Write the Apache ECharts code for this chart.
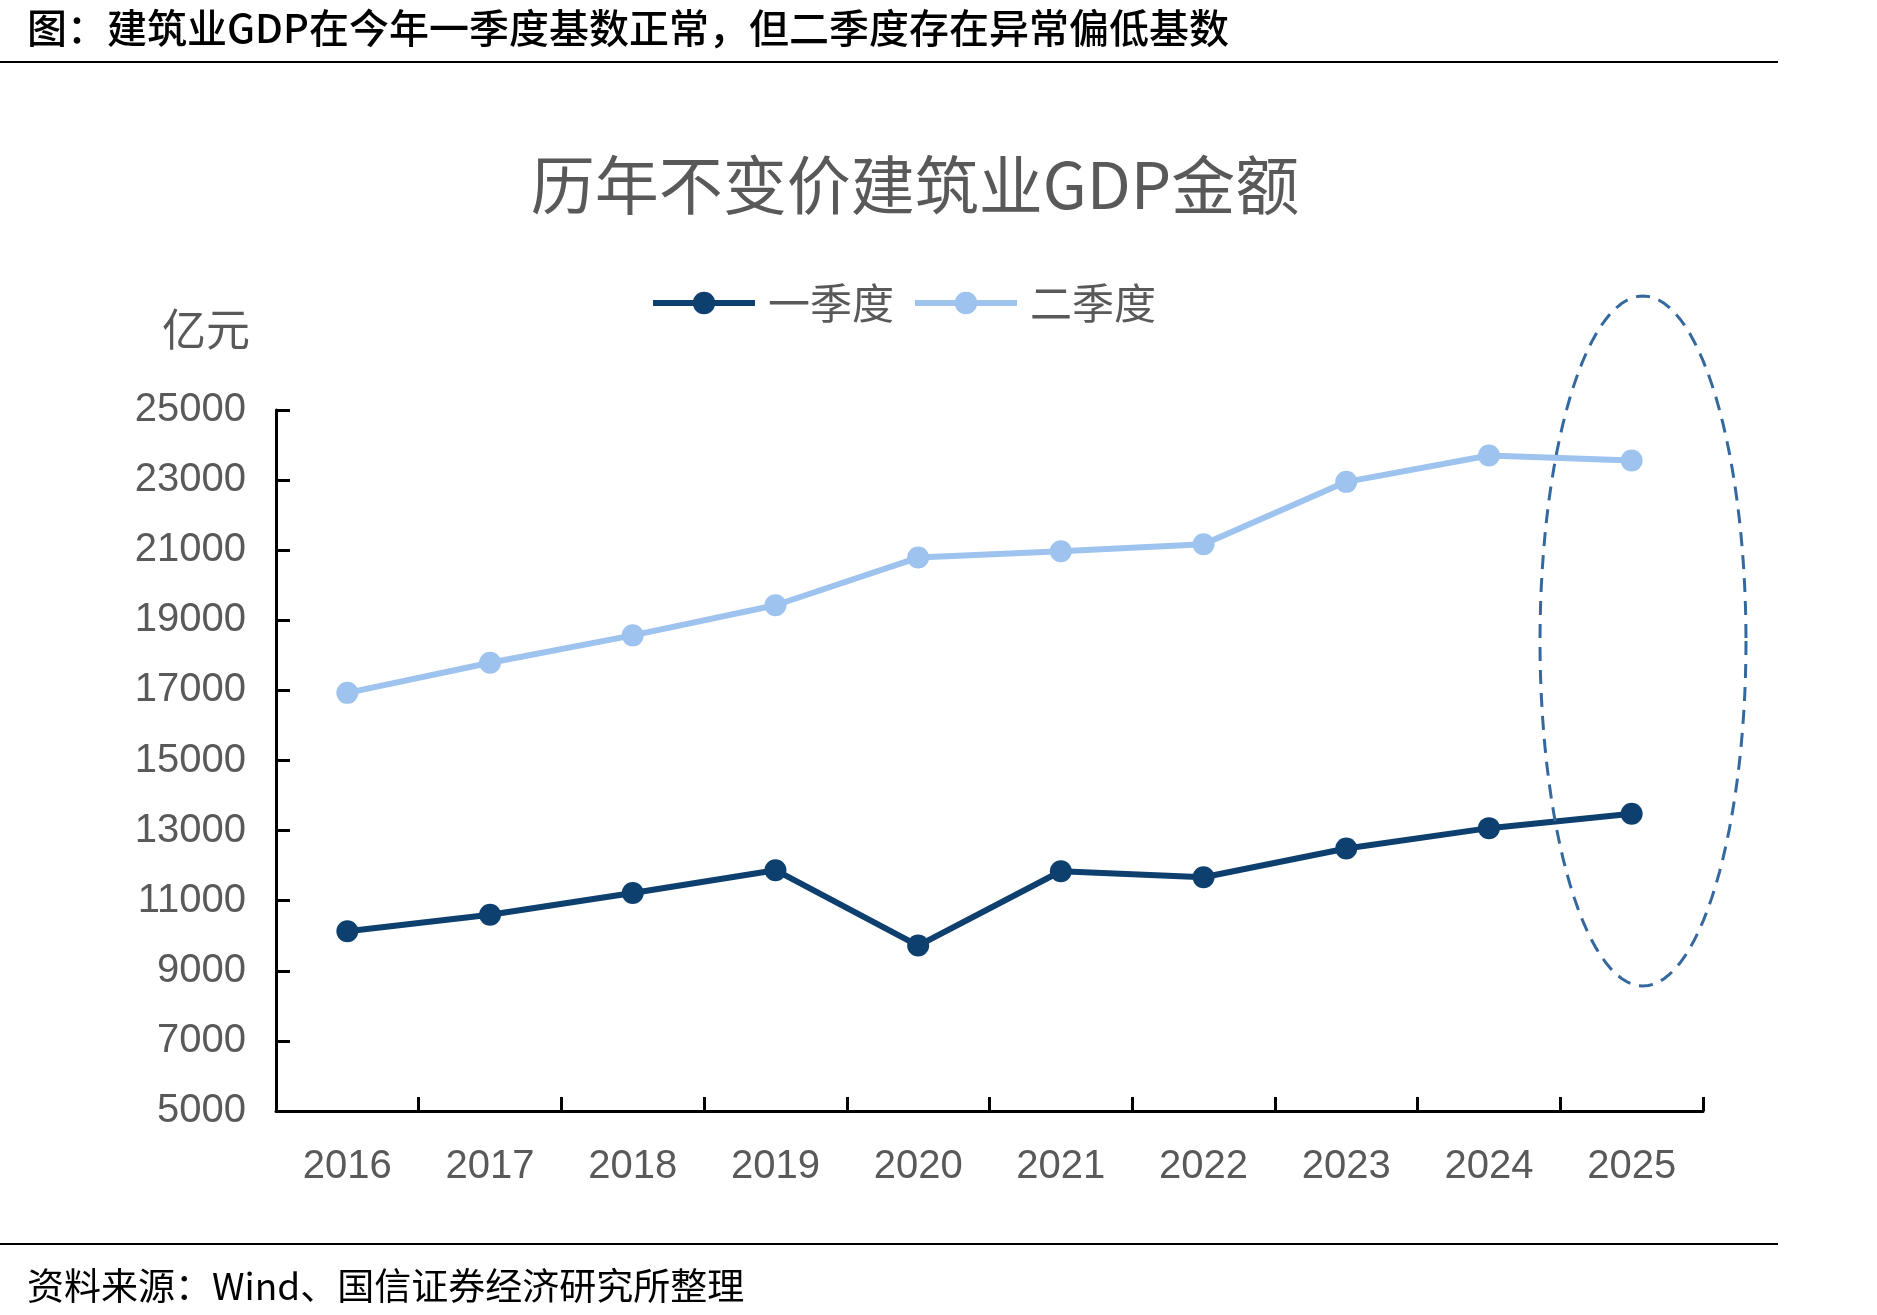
<!DOCTYPE html>
<html>
<head>
	<meta charset="utf-8">
	<title>历年不变价建筑业GDP金额</title>
	<script src="https://cdn.jsdelivr.net/npm/echarts@6/dist/echarts.min.js"></script>
	<style>
		html, body { margin: 0; padding: 0; background: #fff; }
		#main { width: 1877px; height: 1315px; }
	</style>
</head>
<body>
	<div id="main"></div>
<script>
	// 数据
	var years = ['2016', '2017', '2018', '2019', '2020', '2021', '2022', '2023', '2024', '2025'];
	var q1 = [10130, 10600, 11220, 11870, 9720, 11840, 11670, 12490, 13070, 13480];
	var q2 = [16930, 17790, 18570, 19430, 20790, 20970, 21170, 22950, 23700, 23560];
	var yTicks = [5000, 25000, 2000]; // min, max, interval

	var numFont = '"Liberation Sans", Arial, sans-serif';
	var cjkFont = '"Noto Sans CJK SC", sans-serif';

	// 虚线椭圆（标注2025）
	function ellipsePoints(cx, cy, rx, ry) {
		var pts = [];
		for (var i = 0; i < 120; i++) {
			var t = i / 120 * Math.PI * 2;
			pts.push([cx + rx * Math.cos(t), cy + ry * Math.sin(t)]);
		}
		return pts;
	}

	var option = {
		animation: false,
		backgroundColor: '#fff',
		title: [{
			text: '图：建筑业GDP在今年一季度基数正常，但二季度存在异常偏低基数',
			left: 22,
			top: 3,
			textStyle: { fontFamily: cjkFont, fontSize: 40, fontWeight: 500, color: '#000' }
		}, {
			text: '历年不变价建筑业GDP金额',
			left: 910,
			top: 148,
			textAlign: 'center',
			textStyle: { fontFamily: cjkFont, fontSize: 64, fontWeight: 'normal', color: '#595959' }
		}, {
			text: '亿元',
			left: 201,
			top: 302,
			textAlign: 'center',
			textStyle: { fontFamily: cjkFont, fontSize: 44, fontWeight: 'normal', color: '#595959' }
		}, {
			text: '资料来源：Wind、国信证券经济研究所整理',
			left: 22,
			top: 1262,
			textStyle: { fontFamily: cjkFont, fontSize: 37, fontWeight: 'normal', color: '#000' }
		}],
		legend: {
			left: 645,
			top: 277,
			itemWidth: 102,
			itemHeight: 28,
			itemGap: 18,
			lineStyle: { width: 6 },
			textStyle: { fontFamily: cjkFont, fontSize: 42, color: '#595959', padding: [0, 0, 0, 8] },
			data: ['一季度', '二季度']
		},
		grid: { left: 276, right: 174, top: 410, bottom: 204, containLabel: false },
		xAxis: {
			type: 'category',
			data: years,
			boundaryGap: true,
			axisLine: { lineStyle: { color: '#000', width: 3 } },
			axisTick: { show: true, inside: true, length: 14, lineStyle: { color: '#000', width: 3 } },
			axisLabel: { margin: 36, fontFamily: numFont, fontSize: 40, color: '#595959' },
			splitLine: { show: false }
		},
		yAxis: {
			type: 'value',
			min: yTicks[0],
			max: yTicks[1],
			interval: yTicks[2],
			axisLine: { show: true, lineStyle: { color: '#000', width: 3 } },
			axisTick: { show: true, inside: true, length: 14, lineStyle: { color: '#000', width: 3 } },
			axisLabel: {
				margin: 30, fontFamily: numFont, fontSize: 40, color: '#595959',
				formatter: function (v) { return String(v); }
			},
			splitLine: { show: false }
		},
		series: [{
			name: '一季度',
			type: 'line',
			data: q1,
			symbol: 'circle',
			symbolSize: 22,
			itemStyle: { color: '#0D3F6F' },
			lineStyle: { color: '#0D3F6F', width: 6 }
		}, {
			name: '二季度',
			type: 'line',
			data: q2,
			symbol: 'circle',
			symbolSize: 22,
			itemStyle: { color: '#9DC3EE' },
			lineStyle: { color: '#9DC3EE', width: 6 }
		}],
		graphic: [{
			type: 'line',
			shape: { x1: 0, y1: 62, x2: 1778, y2: 62 },
			style: { stroke: '#000', lineWidth: 2 }
		}, {
			type: 'line',
			shape: { x1: 0, y1: 1244, x2: 1778, y2: 1244 },
			style: { stroke: '#000', lineWidth: 2 }
		}, {
			type: 'polygon',
			shape: { points: ellipsePoints(1643, 641, 103, 345) },
			style: { fill: 'none', stroke: '#3469A0', lineWidth: 3, lineDash: [14, 9] },
			z: 10
		}]
	};

	var chart = echarts.init(document.getElementById('main'));
	chart.setOption(option);
</script>
</body>
</html>
